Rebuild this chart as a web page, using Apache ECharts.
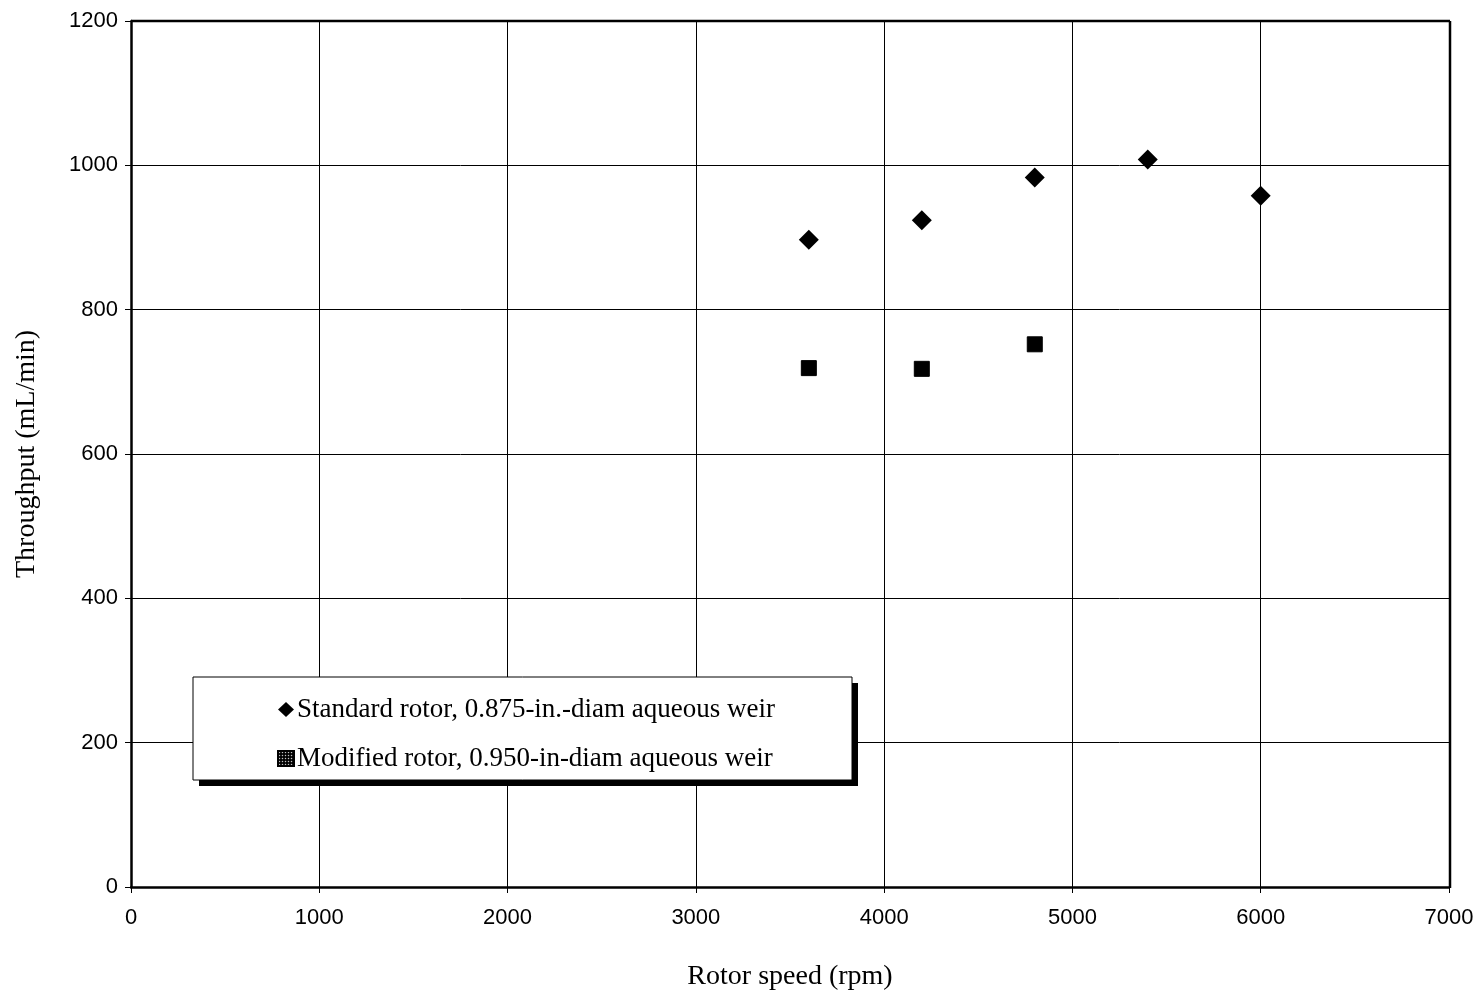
<!DOCTYPE html>
<html><head><meta charset="utf-8">
<script src="https://cdn.jsdelivr.net/npm/echarts@6/dist/echarts.min.js"></script>
<style>html,body{margin:0;padding:0;background:#fff}#c{width:1482px;height:996px}</style>
</head><body><div id="c"></div>
<script>
const standardSpeed = [3600, 4200, 4800, 5400, 6000];
const standardThroughput = [897, 924, 983, 1008, 958];
const modifiedSpeed = [3600, 4200, 4800];
const modifiedThroughput = [719, 718, 752];
const standardName = 'Standard rotor, 0.875-in.-diam aqueous weir';
const modifiedName = 'Modified rotor, 0.950-in-diam aqueous weir';

const chart = echarts.init(document.getElementById('c'));
const sans = 'Liberation Sans, Arial, sans-serif';
const serif = 'Liberation Serif, Times New Roman, serif';
chart.setOption({
  animation: false,
  backgroundColor: '#fff',
  grid: {left: 131, right: 33, top: 21, bottom: 108},
  xAxis: {
    type: 'value', min: 0, max: 7000, interval: 1000,
    name: 'Rotor speed (rpm)', nameLocation: 'middle', nameGap: 76,
    nameTextStyle: {fontFamily: serif, fontSize: 28, color: '#000'},
    axisLine: {lineStyle: {color: '#000', width: 2.5}},
    axisTick: {show: true, length: 6, lineStyle: {color: '#000'}},
    axisLabel: {fontFamily: sans, fontSize: 22, color: '#000', margin: 20, formatter: v => String(v)},
    splitLine: {show: true, lineStyle: {color: '#000', width: 1}}
  },
  yAxis: {
    type: 'value', min: 0, max: 1200, interval: 200,
    name: 'Throughput (mL/min)', nameLocation: 'middle', nameGap: 90,
    nameTextStyle: {fontFamily: serif, fontSize: 28, color: '#000'},
    axisLine: {show: true, lineStyle: {color: '#000', width: 2.5}},
    axisTick: {show: true, length: 6, lineStyle: {color: '#000'}},
    axisLabel: {fontFamily: sans, fontSize: 22, color: '#000', margin: 13, formatter: v => String(v)},
    splitLine: {show: true, lineStyle: {color: '#000', width: 1}}
  },
  graphic: [
    {type: 'rect', shape: {x: 199, y: 683, width: 659, height: 103}, style: {fill: '#000'}, z: 90},
    {type: 'rect', shape: {x: 193, y: 677, width: 659, height: 103}, style: {fill: '#fff', stroke: '#000', lineWidth: 1}, z: 91},
    {type: 'line', shape: {x1: 1450, y1: 21, x2: 1450, y2: 888}, style: {stroke: '#000', lineWidth: 2.5}, z: 5},
    {type: 'line', shape: {x1: 131, y1: 21, x2: 1450, y2: 21}, style: {stroke: '#000', lineWidth: 2.5}, z: 5}
  ],
  legend: {
    orient: 'vertical', left: 272, top: 691, itemGap: 22, z: 100,
    itemWidth: 16, itemHeight: 15,
    textStyle: {fontFamily: serif, fontSize: 27, color: '#000', padding: [0, 0, 0, -2]},
    data: [standardName, modifiedName]
  },
  series: [
    {
      name: standardName, type: 'scatter', symbol: 'diamond', symbolSize: 20,
      itemStyle: {color: '#000', opacity: 1},
      data: standardSpeed.map((s, i) => [s, standardThroughput[i]]), z: 10
    },
    {
      name: modifiedName, type: 'scatter', symbol: 'rect', symbolSize: 15,
      itemStyle: {
        color: '#000', opacity: 1, borderColor: '#000', borderWidth: 1,
        decal: {symbol: 'circle', symbolSize: 0.5, color: 'rgba(255,255,255,0.75)', dashArrayX: [3, 0], dashArrayY: [3, 0]}
      },
      data: modifiedSpeed.map((s, i) => [s, modifiedThroughput[i]]), z: 10
    }
  ]
});
</script></body></html>
